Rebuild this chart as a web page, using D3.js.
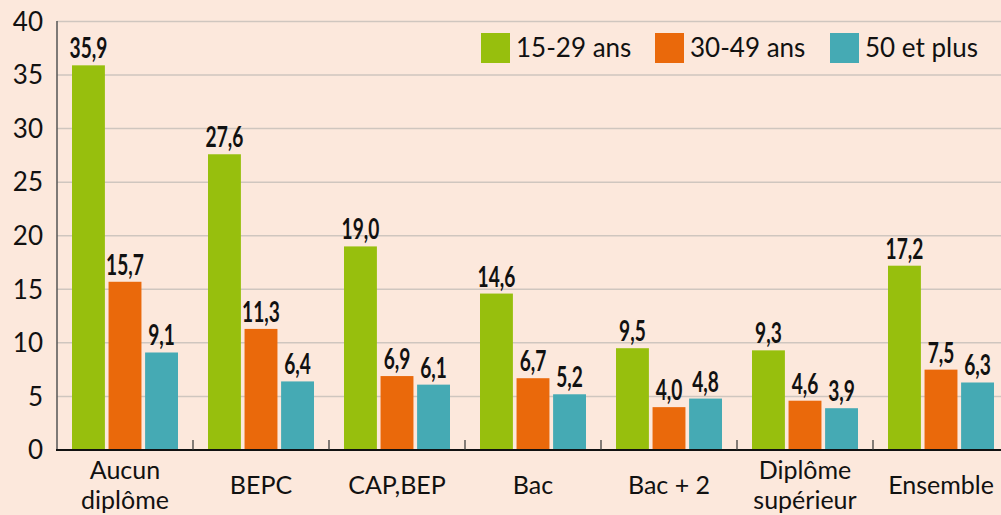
<!DOCTYPE html>
<html><head><meta charset="utf-8">
<script src="https://cdn.jsdelivr.net/npm/d3@7"></script>
<style>
html,body{margin:0;padding:0;background:#fce8dc;}
svg{display:block;}
</style></head>
<body>
<script>
const categories = [["Aucun","diplôme"],["BEPC"],["CAP,BEP"],["Bac"],["Bac + 2"],["Diplôme","supérieur"],["Ensemble"]];
const seriesNames = ["15-29 ans","30-49 ans","50 et plus"];
const s1529 = [35.9, 27.6, 19.0, 14.6, 9.5, 9.3, 17.2];
const s3049 = [15.7, 11.3, 6.9, 6.7, 4.0, 4.6, 7.5];
const s50 = [9.1, 6.4, 6.1, 5.2, 4.8, 3.9, 6.3];
const yTicks = [0,5,10,15,20,25,30,35,40];
const colors = ["#97bf0d","#ea690b","#45aab4"];
const series = [s1529, s3049, s50];

const W = 1001, H = 515;
const svg = d3.select("body").append("svg").attr("width",W).attr("height",H);
svg.append("rect").attr("width",W).attr("height",H).attr("fill","#fce8dc");

const x0 = d3.scaleBand().domain(d3.range(categories.length)).range([57,1009]).padding(0);
const x1 = d3.scaleBand().domain(d3.range(series.length)).range([15,121]).paddingInner(0.1).paddingOuter(0);
const y = d3.scaleLinear().domain([0,40]).range([450,21.4]);

const font = "'Lato','Open Sans',sans-serif";

// gridlines
svg.append("g").selectAll("line").data(yTicks.filter(d=>d>0)).join("line")
  .attr("x1",57).attr("x2",W).attr("y1",d=>y(d)).attr("y2",d=>y(d))
  .attr("stroke","#cfc6bf").attr("stroke-width",1.5);

// y tick labels
svg.append("g").selectAll("text").data(yTicks).join("text")
  .attr("x",43).attr("y",d=>y(d)).attr("dy","0.36em").attr("text-anchor","end")
  .attr("font-family",font).attr("font-size",26).attr("fill","#111").text(d=>d);

// bars
const groups = svg.append("g").selectAll("g").data(categories).join("g")
  .attr("transform",(d,i)=>`translate(${x0(i)},0)`);
const fmt = v => d3.format(".1f")(v).replace(".",",");
series.forEach((s,si)=>{
  groups.append("rect")
    .attr("x",x1(si)).attr("width",x1.bandwidth())
    .attr("y",(d,i)=>y(s[i])).attr("height",(d,i)=>y(0)-y(s[i]))
    .attr("fill",colors[si]);
  groups.append("text")
    .attr("transform",(d,i)=>`translate(${x1(si)+x1.bandwidth()/2},${y(s[i])-7}) scale(0.66,1)`)
    .attr("text-anchor","middle")
    .attr("font-family",font)
    .attr("font-weight","bold").attr("font-size",29).attr("fill","#111")
    .text((d,i)=>fmt(s[i]));
});

// axes lines
svg.append("line").attr("x1",57).attr("x2",57).attr("y1",21).attr("y2",450)
  .attr("stroke","#555").attr("stroke-width",1.5);
svg.append("line").attr("x1",56).attr("x2",W).attr("y1",450).attr("y2",450)
  .attr("stroke","#111").attr("stroke-width",2);
// category separators ticks
svg.append("g").selectAll("line").data(d3.range(1,categories.length)).join("line")
  .attr("x1",d=>x0(d)).attr("x2",d=>x0(d)).attr("y1",440).attr("y2",450)
  .attr("stroke","#333").attr("stroke-width",1.2);

// x labels
groups.each(function(d,i){
  const g = d3.select(this);
  const cx = x0.bandwidth()/2;
  const t = g.append("text").attr("text-anchor","middle")
    .attr("font-family",font).attr("font-size",25).attr("fill","#111");
  if(d.length===1){
    t.append("tspan").attr("x",cx).attr("y",494).text(d[0]);
  } else {
    t.append("tspan").attr("x",cx).attr("y",479).text(d[0]);
    t.append("tspan").attr("x",cx).attr("y",509).text(d[1]);
  }
});

// legend
const legX = [481,655,830];
const leg = svg.append("g").selectAll("g").data(seriesNames).join("g")
  .attr("transform",(d,i)=>`translate(${legX[i]},33)`);
leg.append("rect").attr("width",29).attr("height",30).attr("fill",(d,i)=>colors[i]);
leg.append("text").attr("x",35).attr("y",15).attr("dy","0.36em")
  .attr("font-family",font).attr("font-size",26).attr("fill","#111").text(d=>d);
</script>
</body></html>
